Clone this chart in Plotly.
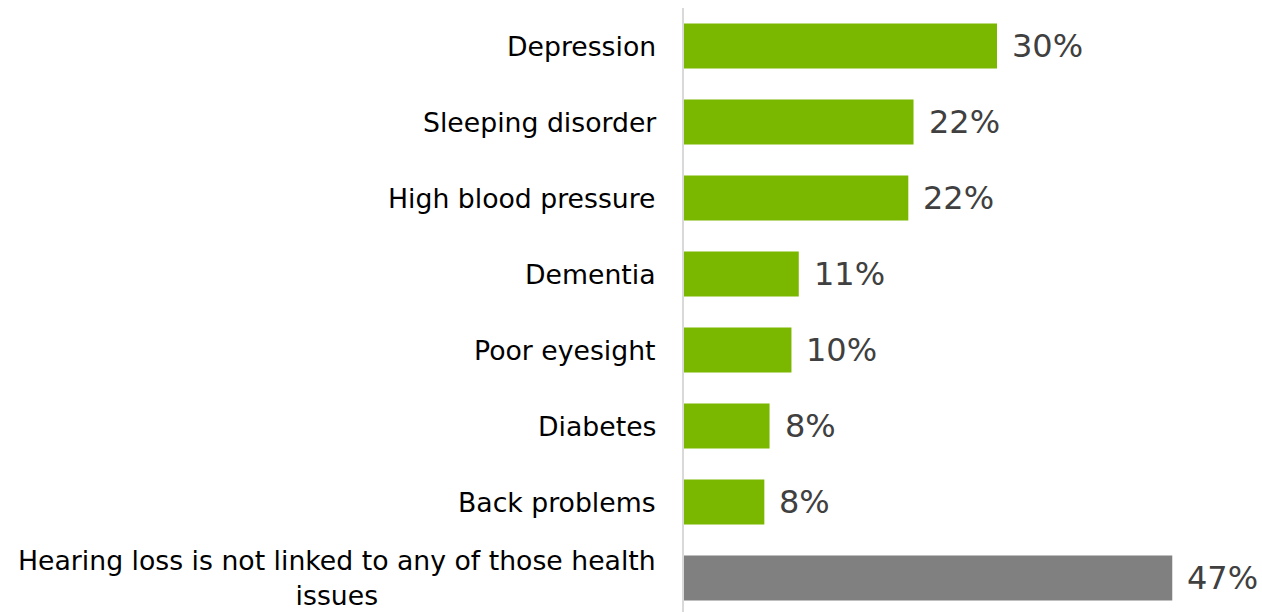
import plotly.graph_objects as go

categories = [
    "Depression",
    "Sleeping disorder",
    "High blood pressure",
    "Dementia",
    "Poor eyesight",
    "Diabetes",
    "Back problems",
    "Hearing loss is not linked to any of those health<br>issues",
]
values = [30.0, 22.0, 21.5, 11.0, 10.3, 8.2, 7.7, 46.8]
value_labels = ["30%", "22%", "22%", "11%", "10%", "8%", "8%", "47%"]
bar_colors = ["#7ab800"] * 7 + ["#808080"]

FONT = "DejaVu Sans"
positions = list(range(len(categories)))

fig = go.Figure()
fig.add_trace(
    go.Bar(
        x=values,
        y=positions,
        orientation="h",
        marker=dict(color=bar_colors, line=dict(width=0)),
        width=0.59,
        hoverinfo="skip",
        showlegend=False,
    )
)

annotations = []
for pos, cat, val, lab in zip(positions, categories, values, value_labels):
    # category label, left of the axis
    annotations.append(
        dict(
            x=0, y=pos, xref="paper", yref="y",
            text=cat, showarrow=False,
            xanchor="right", yanchor="middle", align="center",
            xshift=-26,
            font=dict(family=FONT, size=26.7, color="#000000"),
        )
    )
    # value label, right of the bar
    annotations.append(
        dict(
            x=val, y=pos, xref="x", yref="y",
            text=lab, showarrow=False,
            xanchor="left", yanchor="middle",
            xshift=13,
            font=dict(family=FONT, size=32, color="#404040"),
        )
    )

fig.update_layout(
    width=1262,
    height=612,
    margin=dict(l=684, r=0, t=8, b=0),
    paper_bgcolor="#ffffff",
    plot_bgcolor="#ffffff",
    annotations=annotations,
    xaxis=dict(range=[0, 55.4], showgrid=False, zeroline=False, showticklabels=False, fixedrange=True),
    yaxis=dict(
        range=[7.447, -0.5],
        showgrid=False,
        zeroline=False,
        showticklabels=False,
        showline=True,
        linecolor="#d9d9d9",
        linewidth=2,
        ticks="",
        fixedrange=True,
    ),
)

# drop the default body margin so the figure fills the window exactly
fig.write_html(
    "out.html",
    config={"displayModeBar": False},
    post_script="document.body.style.margin='0';document.body.style.overflow='hidden';",
)
